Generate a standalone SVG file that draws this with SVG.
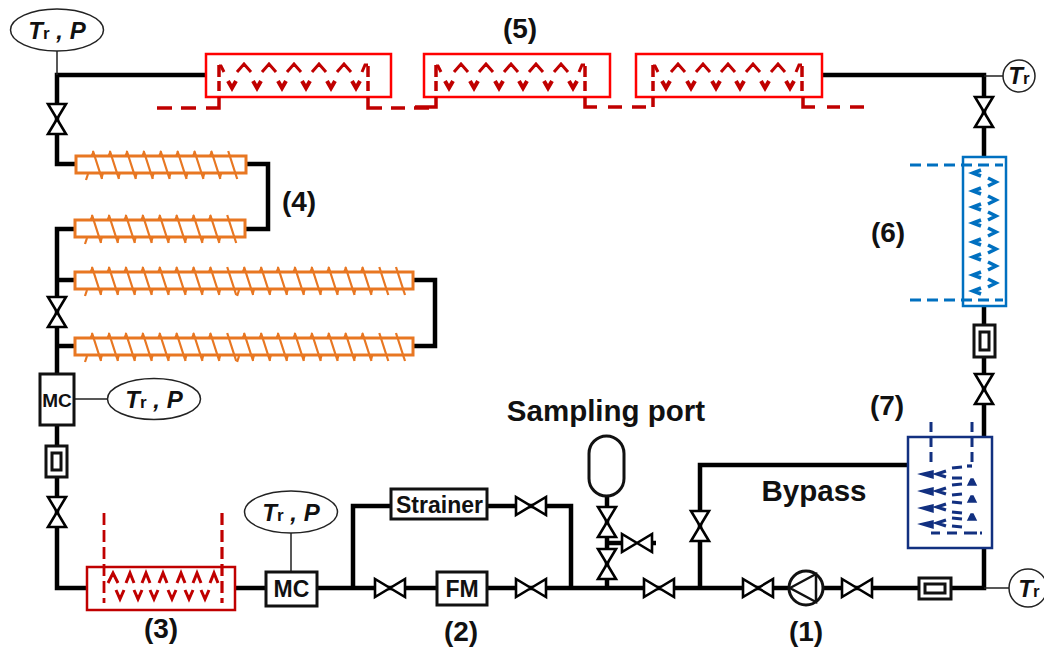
<svg xmlns="http://www.w3.org/2000/svg" width="1044" height="653" viewBox="0 0 1044 653">
<style>
text{font-family:"Liberation Sans",Arial,sans-serif;fill:#111}
.lb{font-weight:bold;font-size:28px;text-anchor:middle}
.big{font-weight:bold;font-size:29.500px;text-anchor:middle}
.box{font-weight:bold;font-size:23px;text-anchor:middle}
.tp{font-style:italic;font-weight:bold;font-size:24px;text-anchor:middle}
.tp tspan{font-style:normal;font-size:17px}
.pipe{fill:none;stroke:#000;stroke-width:4.5;stroke-linejoin:miter}
.sig{fill:none;stroke:#222;stroke-width:1.5}
.sensor{fill:#fff;stroke:#222;stroke-width:1.5}
.unit{fill:#fff;stroke:#111;stroke-width:3}
.valve{fill:#fff;stroke:#000;stroke-width:2.6;stroke-linejoin:miter}
.coil{fill:#fff;stroke:#e87722;stroke-width:3}
.teeth{fill:none;stroke:#e87722;stroke-width:2.2}
.teeth-f{fill:#e87722;stroke:none}
.hot{fill:none;stroke:#ff0000;stroke-width:2.5}
.hot3{fill:none;stroke:#c00000;stroke-width:2.5}
.up{fill:none;stroke:#c00000;stroke-width:3}
.dn{fill:none;stroke:#c00000;stroke-width:4}
.dr{fill:none;stroke:#c00000;stroke-width:3.500}
.dash{fill:none;stroke:#c00000;stroke-width:3.500}
.cool{fill:none;stroke:#0070c0;stroke-width:2.500}
.bl{fill:none;stroke:#0070c0;stroke-width:3.500}
.blue-d{fill:none;stroke:#0070c0;stroke-width:3;stroke-dasharray:11 6}
.tank{fill:#fff;stroke:#123080;stroke-width:2.500}
.nv{fill:none;stroke:#123080;stroke-width:3.200}
.nv-f{fill:#123080;stroke:#123080;stroke-width:1.500}
.nv-d{fill:none;stroke:#123080;stroke-width:3;stroke-dasharray:10 5}
</style>
<defs>
<path id="vv" class="valve" d="M-9 -15H9L-9 15H9Z"/>
<path id="vh" class="valve" d="M-15 -9V9L15 -9V9Z"/>
<g id="t9">
<path class="teeth" d="M0 -5l9 28m7.900 -28l9 28m7.900 -28l9 28m7.900 -28l9 28m7.900 -28l9 28m7.900 -28l9 28m7.900 -28l9 28m7.900 -28l9 28m7.900 -28l9 28M-5 18l-2 6"/>
<path class="teeth-f" d="M-2.500 0l2.500 -6l2.500 6zm16.900 0l2.500 -6l2.500 6zm16.900 0l2.500 -6l2.500 6zm16.900 0l2.500 -6l2.500 6zm16.900 0l2.500 -6l2.500 6zm16.900 0l2.500 -6l2.500 6zm16.900 0l2.500 -6l2.500 6zm16.900 0l2.500 -6l2.500 6z"/>
<path class="teeth-f" d="M6 17h5l-1.500 6zm16.900 0h5l-1.500 6zm16.900 0h5l-1.500 6zm16.900 0h5l-1.500 6zm16.900 0h5l-1.500 6zm16.900 0h5l-1.500 6zm16.900 0h5l-1.500 6zm16.900 0h5l-1.500 6z"/>
</g>
<g id="zz">
<path class="up" d="M45 72l-7 -8l-7 8M70 72l-7 -8l-7 8M95 72l-7 -8l-7 8M120 72l-7 -8l-7 8M145 72l-7 -8l-7 8"/>
<path class="up" d="M13 66h2l3 6M156 72l3 -7h3"/>
<path class="dn" d="M22 81l4 7l4 -7M47 81l4 7l4 -7M72 81l4 7l4 -7M96 81l4 7l4 -7M121 81l4 7l4 -7M146 81l4 7l4 -7"/>
<path class="dr" d="M13 65V77M13 81V91M162 66V77M162 81V91"/>
</g>
</defs>

<g id="connectors">
<path class="pipe" d="M206 75H57V164H76"/>
<path class="pipe" d="M246 164H268V229H244"/>
<path class="pipe" d="M75 229H57V373"/>
<path class="pipe" d="M57 280H75M57 346H75"/>
<path class="pipe" d="M413 280H435V346H413"/>
<path class="pipe" d="M57 425V588H87"/>
<path class="pipe" d="M235 588H918M951 588H984V548"/>
<path class="pipe" d="M353 588V506H391M487 506H571V588"/>
<path class="pipe" d="M607 588V495"/>
<path class="pipe" d="M607 543H622M652 543H656"/>
<path class="pipe" d="M700 588V465H908"/>
<path class="pipe" d="M822 75H984V157M984 306V437"/>
<path class="sig" d="M57 51V75M75 399H107M291 533V572M984 76H1003M984 588H1009"/>
</g>

<g id="valves">
<use href="#vv" x="57" y="119"/><use href="#vv" x="57" y="312"/><use href="#vv" x="57" y="512"/>
<use href="#vv" x="984" y="112"/><use href="#vv" x="984" y="389"/>
<use href="#vv" x="607" y="522"/><use href="#vv" x="607" y="564"/><use href="#vv" x="700" y="526"/>
<use href="#vh" x="637" y="543"/><use href="#vh" x="531" y="506"/>
<use href="#vh" x="390" y="588"/><use href="#vh" x="531" y="588"/><use href="#vh" x="659" y="588"/>
<use href="#vh" x="758" y="588"/><use href="#vh" x="857" y="588"/>
</g>

<g id="sensor-top"><ellipse class="sensor" cx="57" cy="30" rx="46.500" ry="21"/><text class="tp" x="57" y="39">T<tspan>r</tspan> , P</text></g>
<g id="sensor-mid"><ellipse class="sensor" cx="154" cy="399" rx="46.500" ry="20.500"/><text class="tp" x="154" y="408">T<tspan>r</tspan> , P</text></g>
<g id="sensor-bottom"><ellipse class="sensor" cx="291" cy="512" rx="46.500" ry="21"/><text class="tp" x="291" y="521">T<tspan>r</tspan> , P</text></g>
<g id="sensor-tr-top"><circle class="sensor" cx="1019" cy="76" r="16"/><text class="tp" x="1019" y="84">T<tspan>r</tspan></text></g>
<g id="sensor-tr-bottom"><circle class="sensor" cx="1028" cy="588" r="19"/><text class="tp" x="1029" y="597">T<tspan>r</tspan></text></g>

<g id="heater-5a"><rect class="hot" x="206" y="54" width="185" height="43"/><use href="#zz" x="206"/>
<path class="dash" d="M157 108H172M181 108H196M206 108H219V97M368 97V108H382M391 108H405M414 108H429"/></g>
<g id="heater-5b"><rect class="hot" x="424" y="54" width="186" height="43"/><use href="#zz" x="423"/>
<path class="dash" d="M415 107H436V97M585 97V107H597M608 107H622M632 107H646"/></g>
<g id="heater-5c"><rect class="hot" x="636" y="54" width="186" height="43"/><use href="#zz" x="640"/>
<path class="dash" d="M653 107V97M803 97V107H815M827 107H840M850 107H864"/></g>

<g id="coil-1"><rect class="coil" x="76" y="156" width="170" height="17"/><use href="#t9" x="93" y="156"/></g>
<g id="coil-2"><rect class="coil" x="75" y="220" width="170" height="17"/><use href="#t9" x="92" y="220"/></g>
<g id="coil-3"><rect class="coil" x="75" y="272" width="338" height="17"/><use href="#t9" x="92" y="272"/><use href="#t9" x="244.100" y="272"/><path class="teeth" d="M396 267l9 28"/></g>
<g id="coil-4"><rect class="coil" x="75" y="338" width="338" height="17"/><use href="#t9" x="92" y="338"/><use href="#t9" x="244.100" y="338"/><path class="teeth" d="M396 333l9 28"/></g>

<g id="mc-left"><rect class="unit" x="40" y="374" width="34" height="51"/><text class="box" x="57" y="407" style="font-size:19px">MC</text></g>
<g id="fm-left"><rect class="unit" x="46" y="446" width="21" height="31"/><rect class="unit" x="52" y="453" width="9" height="17"/></g>
<g id="fm-right-v"><rect class="unit" x="974" y="325" width="21" height="32"/><rect class="unit" x="980" y="332" width="9" height="18"/></g>
<g id="fm-bottom"><rect class="unit" x="919" y="578" width="32" height="21"/><rect class="unit" x="925" y="584" width="20" height="9"/></g>
<g id="mc-bottom"><rect class="unit" x="266" y="572" width="51" height="34"/><text class="box" x="291.500" y="597">MC</text></g>
<g id="fm"><rect class="unit" x="437" y="572" width="50" height="33"/><text class="box" x="462" y="597">FM</text></g>
<g id="strainer"><rect class="unit" x="391" y="489" width="96" height="30"/><text class="box" x="439.500" y="513">Strainer</text></g>

<g id="sampling-vessel"><rect x="589" y="436" width="35" height="60" rx="17.500" ry="17.500" fill="#fff" stroke="#111" stroke-width="3"/></g>
<g id="pump"><circle cx="806" cy="588" r="17" fill="#fff" stroke="#111" stroke-width="3"/><path d="M790 588L816 574V602ZM816 573V603" fill="none" stroke="#111" stroke-width="2.500"/></g>

<g id="heater-3"><rect class="hot3" x="87" y="567" width="148" height="43"/>
<path class="dash" d="M104 513V603" stroke-dasharray="12 5" style="stroke-width:2.800"/><path class="dash" d="M222 513V603" stroke-dasharray="12 5" style="stroke-width:3.200"/>
<path class="dr" style="stroke-width:3" d="M108 583l5 -10l5 10M126 583l4 -10l4 10M142 583l4 -10l4 10M159 583l4 -10l4 10M177 583l4 -10l4 10M193 583l4 -10l4 10M210 583l4 -10l4 10"/>
<path class="dr" style="stroke-width:3" d="M116 590l4 9l4 -9M134 590l4 9l4 -9M150 590l4 9l4 -9M168 590l4 9l4 -9M185 590l4 9l4 -9M201 590l4 9l4 -9"/></g>

<g id="cooler-6"><path class="blue-d" d="M910 165H1003M910 300H1003"/><rect class="cool" x="963" y="157" width="43" height="149"/>
<path class="bl" d="M981 170l-8 3l8 3M981 188l-8 3l8 3M981 204l-8 3l8 3M981 220l-8 3l8 3M981 239l-8 3l8 3M981 254l-8 3l8 3M981 272l-8 3l8 3M981 288l-8 3l8 3"/>
<path class="bl" d="M988 178l8 4l-8 4M988 196l8 4l-8 4M988 212l8 4l-8 4M988 228l8 4l-8 4M988 245l8 4l-8 4M988 262l8 4l-8 4M988 279l8 4l-8 4"/></g>

<g id="tank-7"><rect class="tank" x="908" y="437" width="84" height="111"/>
<path class="nv-d" d="M931 422V463M972 422V466"/><path class="nv" d="M972 466H967"/>
<path class="nv-f" d="M920 474l13 -3V478ZM920 491l13 -3V495ZM920 508l13 -3V512ZM920 524l13 -3V528Z"/>
<path class="nv" d="M946 471l-9 3l9 3M946 488l-9 3l9 3M946 504l-9 3l9 3M946 520l-9 3l9 3"/>
<path class="nv" d="M952 468l10 -1M952 478h10M952 485l10 -1M952 495l10 -1M952 502l10 1M952 512l10 1M952 518l10 1M952 526l10 1"/>
<path class="nv-f" d="M968 485l3 -6h2l3 6ZM968 502l3 -6h2l3 6ZM968 520l3 -6h2l3 6Z"/>
<path class="nv" d="M931 533H940M947 533H957M964 533H977M980 533H982"/></g>

<g id="labels">
<text class="lb" x="520" y="38">(5)</text>
<text class="lb" x="299" y="211">(4)</text>
<text class="lb" x="888" y="242">(6)</text>
<text class="lb" x="887" y="415">(7)</text>
<text class="lb" x="161" y="638">(3)</text>
<text class="lb" x="461" y="641">(2)</text>
<text class="lb" x="806" y="641">(1)</text>
<text class="big" x="606" y="421">Sampling port</text>
<text class="big" x="814" y="501">Bypass</text>
</g>
</svg>
